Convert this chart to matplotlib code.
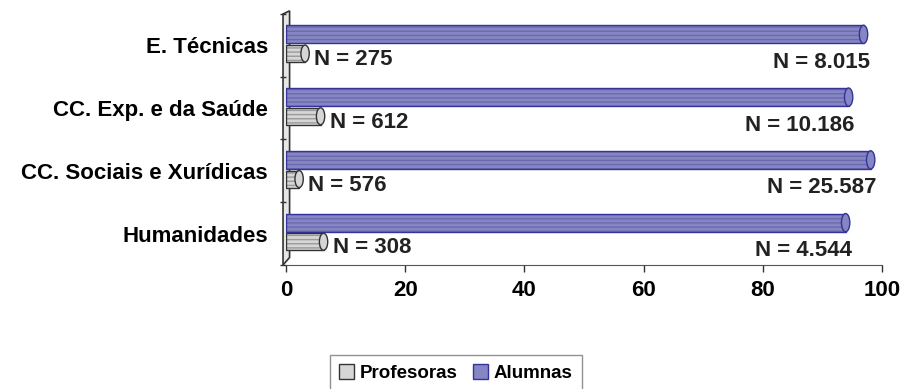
import numpy as np
import matplotlib.pyplot as plt
from matplotlib.patches import Ellipse, Patch, Polygon

plt.rcParams['font.family'] = ['Liberation Sans', 'DejaVu Sans']
plt.rcParams['font.weight'] = 'bold'

categorias = ['Humanidades', 'CC. Sociais e Xurídicas', 'CC. Exp. e da Saúde', 'E. Técnicas']
profesoras = [6.3, 2.2, 5.8, 3.2]
alumnas = [93.9, 98.1, 94.4, 96.9]
n_profesoras = ['N = 308', 'N = 576', 'N = 612', 'N = 275']
n_alumnas = ['N = 4.544', 'N = 25.587', 'N = 10.186', 'N = 8.015']

fig = plt.figure(figsize=(9.03, 3.89), dpi=100)
ax = fig.add_axes([286/903, 1-265/389, (882-286)/903, (265-14)/389])

y = np.arange(len(categorias))
h_al, h_pr = 0.29, 0.27
off_al, off_pr = 0.175, -0.13


def cylinder(ax, yc, val, h, fill, stripe, edge):
    # body with horizontal stripes, then outline and a cap at the end
    ax.barh(yc, val, height=h, color=fill, edgecolor=stripe, hatch='----',
            lw=0, zorder=2)
    ax.barh(yc, val, height=h, color='none', edgecolor=edge, lw=1.0, zorder=3)
    ax.add_patch(Ellipse((val, yc), 1.4, h, facecolor=fill, edgecolor=edge,
                         lw=1.0, zorder=4))


for i in range(len(categorias)):
    cylinder(ax, y[i] + off_al, alumnas[i], h_al, '#8686c4', '#6a6aae', '#333399')
    cylinder(ax, y[i] + off_pr, profesoras[i], h_pr, '#d6d6d6', '#9a9a9a', '#333333')
    ax.annotate(n_alumnas[i], (alumnas[i], y[i] + off_al), xytext=(6, -28),
                textcoords='offset pixels', ha='right', va='center',
                fontsize=16, fontweight='bold', color='#222222')
    ax.annotate(n_profesoras[i], (profesoras[i], y[i] + off_pr), xytext=(9, -6),
                textcoords='offset pixels', ha='left', va='center',
                fontsize=16, fontweight='bold', color='#222222')

# left wall
wall = Polygon([(-0.5, -0.5), (0.6, -0.38), (0.6, 3.55), (-0.5, 3.5)],
               closed=True, facecolor='#e6e6e6', edgecolor='#333333', lw=1.2,
               clip_on=False, zorder=1)
ax.add_patch(wall)

ax.set_xlim(0, 100)
ax.set_ylim(-0.5, 3.5)
ax.set_xticks(np.arange(0, 101, 20))
ax.set_yticks(y)
ax.set_yticklabels(categorias)
ax.set_yticks(np.arange(-0.5, 3.6, 1), minor=True)
ax.tick_params(axis='y', which='major', length=0, pad=13, labelsize=16)
ax.tick_params(axis='y', which='minor', length=4, width=1, color='#333333')
ax.tick_params(axis='x', length=5, width=1, color='#333333', labelsize=16,
               pad=6)
for lab in ax.get_xticklabels() + ax.get_yticklabels():
    lab.set_fontweight('bold')
for s in ['top', 'right', 'left']:
    ax.spines[s].set_visible(False)
ax.spines['bottom'].set_color('#555555')

handles = [Patch(facecolor='#d6d6d6', edgecolor='#333333', lw=1),
           Patch(facecolor='#8686c4', edgecolor='#333399', lw=1)]
fig.legend(handles, ['Profesoras', 'Alumnas'], loc='upper left',
           bbox_to_anchor=(330/903, 1-355/389), ncol=2, frameon=True,
           fancybox=False, edgecolor='#777777',
           prop={'weight': 'bold', 'size': 13.5}, handlelength=0.8,
           handleheight=0.8, handletextpad=0.3, columnspacing=0.8,
           borderpad=0.5, borderaxespad=0)

fig.savefig('out.png', dpi=100)
